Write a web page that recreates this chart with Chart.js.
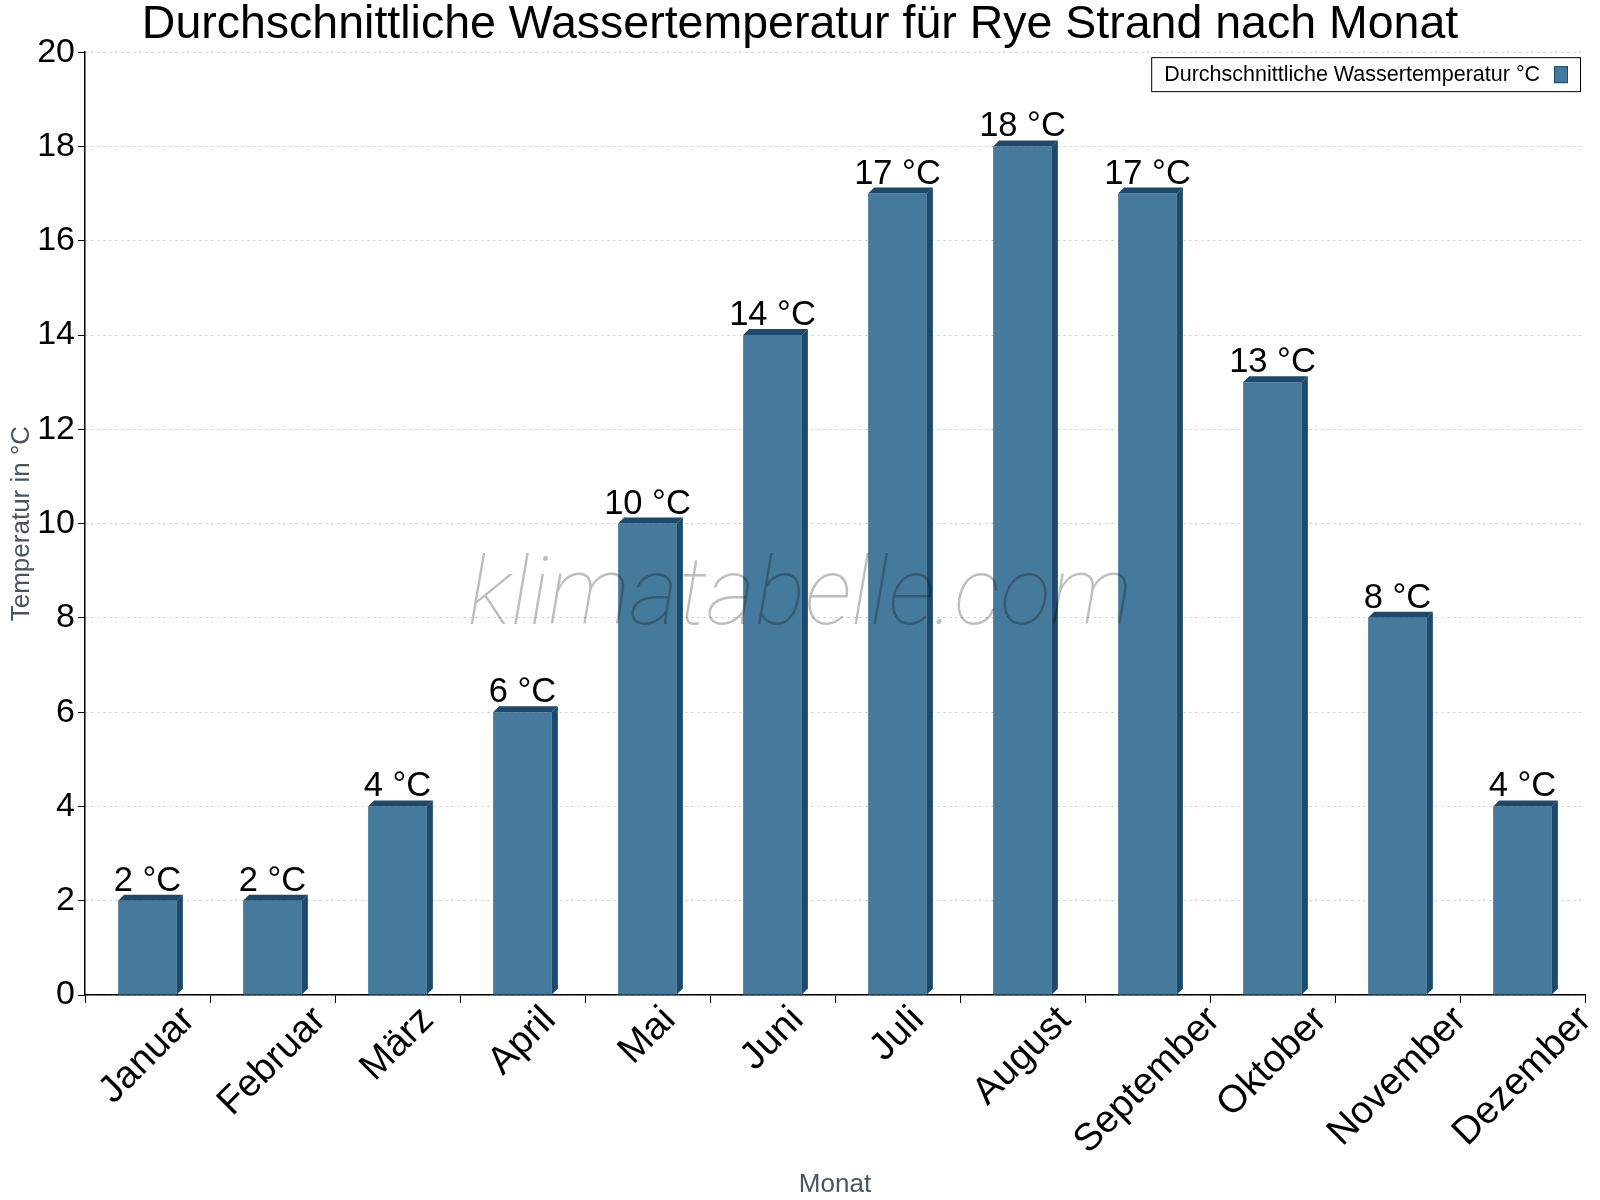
<!DOCTYPE html>
<html>
<head>
<meta charset="utf-8">
<title>Wassertemperatur Rye Strand</title>
<script src="https://cdn.jsdelivr.net/npm/chart.js@4.4.0/dist/chart.umd.min.js"></script>
<style>
  body { margin: 0; background: #fff; }
  #wrap { width: 1600px; height: 1200px; }
</style>
</head>
<body>
<div id="wrap"><canvas id="waterChart" width="1600" height="1200"></canvas></div>
<script>
// Chart data
const months = ['Januar', 'Februar', 'März', 'April', 'Mai', 'Juni', 'Juli', 'August', 'September', 'Oktober', 'November', 'Dezember'];
const waterTemp = [2, 2, 4, 6, 10, 14, 17, 18, 17, 13, 8, 4];
const seriesLabel = 'Durchschnittliche Wassertemperatur °C';
const yTicks = [0, 2, 4, 6, 8, 10, 12, 14, 16, 18, 20];

const FRONT = '#467a9c';
const DARK = '#1b4a6c';
const FONT = '"Liberation Sans", Arial, sans-serif';

// fake 3D side/top faces, value labels, rotated month labels, watermark and boxed legend
const extrasPlugin = {
    id: 'extras',
    afterDatasetsDraw(chart) {
        const ctx = chart.ctx;
        const meta = chart.getDatasetMeta(0);
        const xScale = chart.scales.x;
        const d = 6;
        ctx.save();
        meta.data.forEach(bar => {
            const left = bar.x - bar.width / 2;
            const right = bar.x + bar.width / 2;
            ctx.fillStyle = DARK;
            // side
            ctx.beginPath();
            ctx.moveTo(right, bar.y);
            ctx.lineTo(right + d, bar.y - d);
            ctx.lineTo(right + d, bar.base - d);
            ctx.lineTo(right, bar.base);
            ctx.closePath();
            ctx.fill();
            // top
            ctx.beginPath();
            ctx.moveTo(left, bar.y);
            ctx.lineTo(left + d, bar.y - d);
            ctx.lineTo(right + d, bar.y - d);
            ctx.lineTo(right, bar.y);
            ctx.closePath();
            ctx.fill();
        });

        // watermark
        ctx.font = 'italic 100 94px Roboto';
        ctx.fillStyle = 'rgba(0,0,0,0.26)';
        ctx.textAlign = 'center';
        ctx.textBaseline = 'alphabetic';
        ctx.fillText('klimatabelle.com', chart.width / 2, 624);

        // value labels
        ctx.font = '34.5px ' + FONT;
        ctx.fillStyle = '#000';
        ctx.textAlign = 'center';
        meta.data.forEach((bar, i) => {
            ctx.fillText(waterTemp[i] + ' °C', bar.x, bar.y - d - 4);
        });

        // month labels, rotated around their own centre
        ctx.font = '38.5px ' + FONT;
        ctx.textBaseline = 'middle';
        months.forEach((m, i) => {
            const w = ctx.measureText(m).width;
            const cx = xScale.getPixelForValue(i);
            const cy = xScale.top + 19 + w * 0.3536;
            ctx.save();
            ctx.translate(cx, cy);
            ctx.rotate(-Math.PI / 4);
            ctx.fillText(m, 0, 0);
            ctx.restore();
        });

        // legend box
        const area = chart.chartArea;
        ctx.font = '21.5px ' + FONT;
        const label = chart.data.datasets[0].label;
        const tw = ctx.measureText(label).width;
        const boxR = area.right - 5;
        const boxT = area.top + 5;
        const boxH = 34;
        const boxW = 13 + tw + 14 + 14 + 12;
        const boxL = boxR - boxW;
        ctx.fillStyle = '#fff';
        ctx.fillRect(boxL, boxT, boxW, boxH);
        ctx.strokeStyle = '#000';
        ctx.lineWidth = 1;
        ctx.strokeRect(boxL + 0.5, boxT + 0.5, boxW, boxH);
        ctx.fillStyle = '#000';
        ctx.textAlign = 'left';
        ctx.textBaseline = 'middle';
        ctx.fillText(label, boxL + 13, boxT + boxH / 2 + 1);
        const sx = boxL + 13 + tw + 14;
        ctx.fillStyle = FRONT;
        ctx.fillRect(sx, boxT + 9, 14, 17);
        ctx.strokeStyle = DARK;
        ctx.strokeRect(sx + 0.5, boxT + 9.5, 13, 16);
        ctx.restore();
    }
};

const ctx = document.getElementById('waterChart').getContext('2d');
const waterChart = new Chart(ctx, {
    type: 'bar',
    data: {
        labels: months,
        datasets: [{
            label: seriesLabel,
            data: waterTemp,
            backgroundColor: FRONT,
            borderWidth: 0,
            barPercentage: 0.47,
            categoryPercentage: 1.0
        }]
    },
    options: {
        responsive: false,
        animation: false,
        devicePixelRatio: 1,
        layout: { padding: 0 },
        plugins: {
            legend: { display: false },
            tooltip: { enabled: false },
            title: {
                display: true,
                text: 'Durchschnittliche Wassertemperatur für Rye Strand nach Monat',
                color: '#000',
                font: { family: FONT, size: 46.5, weight: 'normal', lineHeight: 1.1 },
                padding: { top: 0, bottom: 1 }
            }
        },
        scales: {
            x: {
                offset: true,
                grid: {
                    display: true,
                    offset: true,
                    drawOnChartArea: false,
                    drawTicks: true,
                    tickLength: 8,
                    color: '#000',
                    tickColor: '#000'
                },
                border: { display: true, color: '#000', width: 1.5 },
                ticks: { display: false },
                title: {
                    display: true,
                    text: 'Monat',
                    color: '#4a5560',
                    font: { family: FONT, size: 26 },
                    padding: { top: 0, bottom: 0 }
                },
                afterFit(scale) {
                    scale.height = 205;
                    scale.paddingLeft = 0;
                    scale.paddingRight = 15;
                }
            },
            y: {
                min: 0,
                max: 20,
                afterBuildTicks(scale) { scale.ticks = yTicks.map(v => ({ value: v })); },
                grid: {
                    color: '#c8c8c8',
                    tickColor: '#000',
                    tickLength: 7,
                    tickBorderDash: [],
                    lineWidth: 1
                },
                border: { display: true, color: '#000', width: 1.5, dash: [2, 4] },
                ticks: {
                    color: '#000',
                    font: { family: FONT, size: 34 },
                    padding: 3
                },
                title: {
                    display: true,
                    text: 'Temperatur in °C',
                    color: '#4a5560',
                    font: { family: FONT, size: 26 },
                    padding: { top: 6, bottom: 0 }
                },
                afterFit(scale) { scale.width = 85; }
            }
        }
    },
    plugins: [extrasPlugin]
});
</script>
</body>
</html>
